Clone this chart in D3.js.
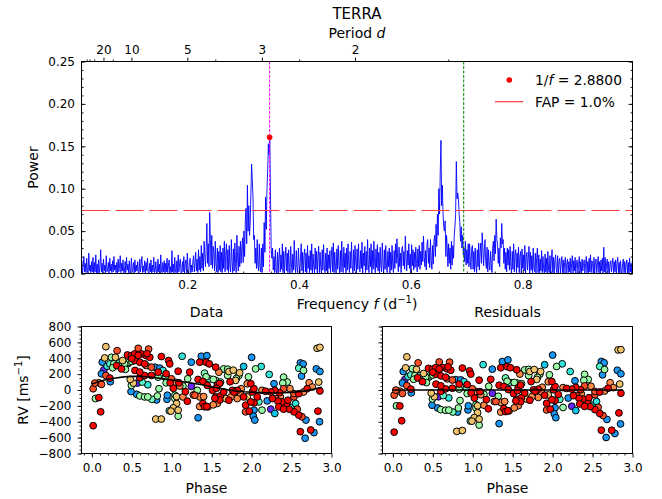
<!DOCTYPE html>
<html><head><meta charset="utf-8">
<script src="https://cdn.jsdelivr.net/npm/d3@7"></script>
<style>body{margin:0;background:#fff} text{font-family:"DejaVu Sans",sans-serif}</style>
</head><body><svg id="c" width="662" height="499"></svg>
<script>
// ---------------- data ----------------
const chartTitle = "TERRA";
const freqStart = 0.010, freqStep = 0.00125;   // frequency grid of the periodogram (1/d)
const powerMilli = [
 1,15,0,9,20,2,12,1,18,3, 0,24,3,10,1,14,2,19,0,13, 2,22,1,11,0,16,1,9,28,2, 12,0,17,3,10,1,21,2,4,13,
 0,18,3,11,1,15,2,20,4,10, 1,13,0,17,2,9,21,1,12,3, 16,0,2,14,1,19,4,11,1,15, 0,3,18,2,5,13,0,16,2,10,
 3,14,0,1,17,2,11,20,1,9, 2,15,0,13,3,18,1,0,12,2, 16,0,10,2,19,1,3,14,0,1, 17,2,11,0,22,3,1,13,2,15,
 0,12,2,18,1,10,16,0,8,1, 27,2,11,0,19,3,1,15,0,22, 2,12,17,1,0,14,2,20,0,11, 16,1,24,3,0,13,18,1,10,2,
 15,21,2,13,25,3,17,1,28,4, 20,2,33,6,24,3,38,22,8,30, 59,12,35,8,72,40,10,45,6,32, 25,3,38,12,2,30,1,26,4,33,
 2,25,1,30,6,38,2,22,35,4, 28,1,33,8,2,40,14,1,29,3, 36,12,1,45,17,3,32,8,38,12, 30,42,13,50,20,62,77,35,104,50,
 80,45,60,95,129,110,90,40,45,12, 30,6,40,10,3,35,8,2,30,1, 35,8,60,25,90,52,100,120,153,140, 161,95,30,18,30,4,20,1,28,3,
 1,25,0,18,30,2,22,5,35,1, 26,0,19,31,3,24,1,28,7,0, 32,10,1,23,4,39,8,1,27,6, 1,30,12,0,19,35,3,25,0,21,
 29,2,24,0,33,6,21,1,27,4, 35,0,23,8,1,30,5,26,0,20, 32,1,25,7,0,28,4,34,9,1, 24,3,30,0,22,6,27,1,19,31,
 2,36,1,25,8,0,29,5,33,10, 0,27,2,38,12,1,31,7,24,0, 30,4,35,11,1,26,6,37,9,0, 28,3,33,13,1,29,5,35,10,2,
 27,6,37,0,24,9,32,1,26,4, 40,11,1,30,8,35,0,27,5,38, 12,1,29,7,34,3,25,0,31,10, 2,36,13,0,28,5,33,9,1,26,
 8,30,0,25,4,33,10,1,27,6, 35,12,41,18,2,31,8,24,1,29, 32,9,26,5,44,20,3,27,10,35, 6,23,0,34,9,28,4,25,7,31,
 12,2,29,8,33,5,26,10,37,14, 44,20,8,27,4,35,40,12,30,7, 40,16,5,33,11,38,45,20,58,32, 70,45,100,70,120,157,80,104,70,55,
 50,62,20,45,30,8,35,12,30,5, 38,10,33,18,45,55,70,132,88,95, 88,70,60,38,55,30,45,22,30,14, 38,10,28,12,35,8,35,15,5,30,
 33,5,26,2,30,10,1,28,8,36, 4,25,36,12,48,30,9,27,40,14, 6,31,2,28,10,4,26,12,1,30, 38,15,45,23,64,40,35,12,30,8,
 42,30,59,35,40,12,30,5,25,2, 30,10,28,4,32,8,0,26,5,35, 2,22,28,1,24,7,31,1,20,26, 0,29,6,22,3,33,0,19,25,4,
 18,32,0,25,4,21,1,30,6,2, 24,0,19,30,1,22,0,17,3,27, 1,20,5,0,23,2,18,0,26,4, 1,21,0,16,28,1,19,0,15,22,
 5,1,21,0,14,18,0,12,20,1, 16,0,13,19,0,11,17,1,14,2, 18,0,12,21,0,15,3,19,0,13, 16,0,11,20,1,14,0,17,3,12,
 16,0,12,20,1,14,0,18,2,22, 1,15,12,0,19,0,13,17,1,11, 20,1,14,0,16,3,18,0,31,2, 19,0,12,17,1,14,0,11,15,2,
 11,18,0,14,2,16,0,12,19,1, 13,0,15,3,0,12,17,1,14,0, 11,16,0,13,0,18,2,12,0,15, 3,8
];
const bestPeriod = 2.88;
const bestPower = 0.1607;
const fapLevel = 0.0743;
const fapLabel = "FAP = 1.0%";
const periodTicks = [20, 10, 5, 3, 2];
const periodMinor = [50, 40, 30, 15, 4, 2.5, 1.5];
const freqTicks = [0.2, 0.4, 0.6, 0.8];
const powerTicks = [0, 0.05, 0.10, 0.15, 0.20, 0.25];
const phaseTicks = [0, 0.5, 1.0, 1.5, 2.0, 2.5, 3.0];
const rvTicks = [-800, -600, -400, -200, 0, 200, 400, 600, 800];

// [phase (d), RV (m/s), time colour 0..1]
const rvPoints = [
[0.016,-450,1],[0.11,-275,1],[0.087,-96,1],[0.045,-108,0.55],[0.016,16,0.9],[0.037,87,0.9],[0.087,91,0.82],[0.12,71,0.9],
[0.175,546,0.72],[0.16,404,0.72],[0.13,350,0.2],[0.15,254,0.05],[0.12,204,0.2],[0.175,183,0.9],[0.225,150,1],[0.245,412,0.55],
[0.295,412,0.72],[0.225,329,0.42],[0.275,329,0.55],[0.316,496,0.9],[0.33,308,0.05],[0.31,308,1],[0.37,266,1],[0.385,371,0.72],
[0.445,441,1],[0.466,350,0.55],[0.41,329,0.55],[0.495,433,1],[0.537,454,1],[0.58,525,0.9],[0.71,516,0.9],[0.62,454,1],
[0.68,433,1],[0.725,412,1],[0.537,371,1],[0.60,350,1],[0.66,329,1],[0.68,308,0.82],[0.745,287,0.9],[0.87,421,1],
[0.96,371,1],[0.975,329,1],[1.13,425,0.35],[1.245,350,0.2],[1.37,425,0.2],[1.35,350,1],[1.43,350,1],[0.79,287,0.2],
[0.85,275,0.2],[0.83,225,1],[0.89,246,0.35],[0.93,204,1],[0.995,141,0.9],[0.92,162,0.48],[1.04,100,0.82],[1.09,91,1],
[1.225,225,1],[1.2,141,0.55],[1.245,46,0.05],[1.14,50,0.55],[1.33,133,1],[1.39,108,1],[1.41,212,0.48],[1.32,-4,0.55],
[1.35,-87,0.82],[1.33,-350,0.2],[1.29,-66,0.9],[1.39,-170,1],[1.41,-212,1],[0.56,-54,0.2],[0.60,-75,0.55],[0.66,-87,0.55],
[0.70,-87,0.55],[0.75,-117,0.48],[0.82,-75,0.55],[0.84,16,0.55],[0.70,66,0.35],[0.63,100,0.42],[0.495,58,0.55],[0.52,87,0.72],
[0.57,87,0.05],[0.48,133,0.72],[0.60,154,1],[0.66,183,1],[0.54,246,1],[0.60,225,1],[0.745,183,1],[0.83,162,0.55],
[0.93,91,0.55],[0.94,-117,0.2],[0.945,-66,0.2],[1.04,-66,0.48],[1.04,-108,0.55],[1.06,-170,0.72],[1.02,-225,0.72],[0.99,-266,0.72],
[1.08,-254,0.72],[1.08,-329,0.55],[0.80,-366,0.72],[0.87,-366,0.72],[1.195,-141,1],[1.14,-87,0.82],
[2.0,412,0.2],[1.90,296,0.28],[2.05,266,0.55],[2.12,296,0.35],[2.22,196,0.35],[2.40,162,0.55],[2.445,100,0.55],[2.39,87,0.55],
[2.61,341,0.2],[2.645,329,0.2],[2.59,275,0.42],[2.65,246,0.55],[2.625,175,0.2],[2.82,525,0.72],[2.855,537,0.72],[2.81,266,0.2],
[2.855,233,0.2],[2.84,100,0.72],[2.855,-12,1],[2.83,-266,1],[2.85,-400,0.2],[2.61,-525,1],[2.67,-608,0.2],[2.74,-504,1],
[2.78,-537,0.2],[2.68,-379,0.2],[2.63,-337,0.9],[2.59,-316,1],[2.53,-275,1],[2.57,-241,0.9],[2.495,-221,0.35],[2.47,-241,1],
[2.44,-170,1],[2.38,-150,1],[2.33,-141,1],[2.29,-296,0.28],[2.24,-241,0.05],[2.195,-137,0.2],[2.13,-254,0.55],[2.03,-254,0.2],
[2.02,-329,0.2],[2.04,-379,0.2],[1.97,-266,1],[1.925,-275,0.9],[1.925,-191,1],[2.03,-162,1],[2.09,-150,0.42],[2.07,-87,1],
[2.01,-25,1],[2.03,16,1],[1.99,79,1],[1.945,79,0.82],[1.87,16,0.82],[1.82,-4,1],[1.86,-46,0.82],[1.90,-87,1],
[1.82,-108,0.82],[1.76,-4,1],[1.80,121,0.72],[1.84,183,0.55],[1.70,183,0.55],[1.715,233,0.72],[1.65,266,0.55],[1.675,254,0.2],
[1.55,287,1],[1.47,329,1],[1.47,141,0.42],[1.55,121,0.55],[1.61,100,0.55],[1.57,58,1],[1.445,58,1],[1.51,-4,1],
[1.55,-87,1],[1.61,-75,1],[1.675,-108,0.72],[1.715,-129,1],[1.455,-212,0.82],[1.57,-170,0.82],[1.74,-87,0.82],[1.78,-25,1],
[1.65,-25,1],[2.30,-108,0.9],[2.36,-87,0.82],[2.455,-129,1],[2.53,-87,0.9],[2.59,-46,1],[2.65,-25,0.82],[2.72,91,0.82],
[2.76,37,0.82],[2.695,16,1],[2.53,-46,0.9],[2.48,16,0.82],[2.40,16,0.9],[2.35,-33,1],[2.29,-4,1],[2.24,-25,1],
[2.175,-16,1],[2.26,-108,1],[2.34,-212,1],[2.40,-241,1],[2.13,-4,0.82],[2.55,-170,0.35],[2.28,79,0.2],[1.945,-87,0.72],
[1.99,-150,1],[1.44,433,0.2],[1.59,225,0.82],[1.08,237,1],[0.97,-262,0.42],[1.43,166,0.55],[1.52,133,0.55],[1.60,83,1],
[1.56,21,1],[1.73,104,1],[1.70,262,0.55],[1.77,250,0.72],[1.85,216,0.72],[1.81,146,0.55],[1.96,166,0.55],[1.44,-208,1],
[1.52,-187,0.82],[1.60,-125,1],[1.54,-104,1],[1.35,-208,0.82],[1.40,-83,0.82],[1.27,-62,0.82],[1.17,-21,1],[1.10,50,0.82],
[1.02,21,1],[0.98,91,1],[1.06,-83,0.72],[0.58,437,1],[0.69,458,1],[0.50,396,1],[0.23,104,0.2],[0.19,300,0.35],
[0.26,280,0.55],[0.34,340,0.42],[0.42,260,0.55],[0.45,330,0.42],[0.50,360,0.55],[0.49,-20,0.2],[0.81,-125,0.2]
];
const modelPhase = [0,0.1,0.2,0.3,0.4,0.5,0.6,0.7,0.8,0.9,1.0,1.1,1.2,1.3,1.4,1.5,1.6,1.7,1.8,1.9,2.0,2.1,2.2,2.3,2.4,2.5,2.6,2.7,2.8,2.88];
const modelRV    = [75,110,135,152,165,172,172,166,155,140,125,110,95,78,62,42,22,2,-12,-22,-28,-33,-36,-37,-35,-30,-20,-5,15,35];

// ---------------- drawing ----------------
const svg = d3.select("#c");
const FONT = "DejaVu Sans";
function styleAxis(g, fs){
  g.select(".domain").remove();
  g.selectAll("text").attr("font-size", fs || 12).attr("font-family", FONT).attr("fill", "#000");
  g.selectAll("line").attr("stroke", "#000").attr("stroke-width", 0.9);
}

// ---- periodogram panel ----
const P = {l:81.5, r:632.5, t:61.5, b:273.5};
const x = d3.scaleLinear().domain([0.0107, 0.9964]).range([P.l, P.r]);
const y = d3.scaleLinear().domain([0, 0.25]).range([P.b, P.t]);

svg.append("clipPath").attr("id","clipTop").append("rect")
  .attr("x",P.l).attr("y",P.t).attr("width",P.r-P.l).attr("height",P.b-P.t);

const pg = powerMilli.map((v,i)=>({f: freqStart + i*freqStep, p: v/1000}));
const plot = svg.append("g").attr("clip-path","url(#clipTop)");
plot.append("path").datum(pg)
  .attr("d", d3.line().x(d=>x(d.f)).y(d=>y(d.p)))
  .attr("fill","none").attr("stroke","#0000ff").attr("stroke-width",0.9);

// FAP line
plot.append("line").attr("x1",P.l).attr("x2",P.r).attr("y1",y(fapLevel)).attr("y2",y(fapLevel))
  .attr("stroke","#ff3b3b").attr("stroke-width",1.2).attr("stroke-dasharray","28,6");
// best period and harmonic
const fBest = 1/bestPeriod;
plot.append("line").attr("x1",x(fBest)).attr("x2",x(fBest)).attr("y1",P.t).attr("y2",P.b)
  .attr("stroke","#ff00ff").attr("stroke-width",1).attr("stroke-dasharray","3,1.5");
plot.append("line").attr("x1",x(2*fBest)).attr("x2",x(2*fBest)).attr("y1",P.t).attr("y2",P.b)
  .attr("stroke","#008000").attr("stroke-width",1).attr("stroke-dasharray","3,1.5");
plot.append("circle").attr("cx",x(fBest)).attr("cy",y(bestPower)).attr("r",2.8).attr("fill","#ff0000");

// axes
styleAxis(svg.append("g").attr("transform",`translate(0,${P.b})`)
  .call(d3.axisBottom(x).tickValues(freqTicks).tickSizeInner(-4).tickSizeOuter(0).tickPadding(6.5).tickFormat(d3.format(".1f"))));
styleAxis(svg.append("g").attr("transform",`translate(0,${P.b})`)
  .call(d3.axisBottom(x).tickValues(d3.range(0.05,0.99,0.05).filter(v=>Math.abs(v*5-Math.round(v*5))>1e-6)).tickSizeInner(-2).tickSizeOuter(0).tickFormat("")));
styleAxis(svg.append("g").attr("transform",`translate(${P.l},0)`)
  .call(d3.axisLeft(y).tickValues(powerTicks).tickSizeInner(-4).tickSizeOuter(0).tickPadding(6.5).tickFormat(d3.format(".2f"))));
styleAxis(svg.append("g").attr("transform",`translate(${P.l},0)`)
  .call(d3.axisLeft(y).ticks(25).tickSizeInner(-2).tickSizeOuter(0).tickFormat("")));
styleAxis(svg.append("g").attr("transform",`translate(${P.r},0)`)
  .call(d3.axisRight(y).tickValues(powerTicks).tickSizeInner(-4).tickSizeOuter(0).tickFormat("")));
styleAxis(svg.append("g").attr("transform",`translate(${P.r},0)`)
  .call(d3.axisRight(y).ticks(25).tickSizeInner(-2).tickSizeOuter(0).tickFormat("")));
// period axis on top
styleAxis(svg.append("g").attr("transform",`translate(0,${P.t})`)
  .call(d3.axisTop(x).tickValues(periodTicks.map(p=>1/p)).tickSizeInner(4).tickSizeOuter(0).tickPadding(3.5)
        .tickFormat((d,i)=>periodTicks[i])));
styleAxis(svg.append("g").attr("transform",`translate(0,${P.t})`)
  .call(d3.axisTop(x).tickValues(periodMinor.map(p=>1/p)).tickSizeInner(2).tickSizeOuter(0).tickFormat("")));

svg.append("rect").attr("x",P.l).attr("y",P.t).attr("width",P.r-P.l).attr("height",P.b-P.t)
  .attr("fill","none").attr("stroke","#000").attr("stroke-width",1);

// titles and labels
svg.append("text").attr("x",(P.l+P.r)/2).attr("y",18.5).attr("text-anchor","middle")
  .attr("font-size",15).text(chartTitle);
const pl = svg.append("text").attr("x",(P.l+P.r)/2).attr("y",38).attr("text-anchor","middle").attr("font-size",14);
pl.append("tspan").text("Period ");
pl.append("tspan").attr("font-style","italic").text("d");
const fl = svg.append("text").attr("x",(P.l+P.r)/2).attr("y",309).attr("text-anchor","middle").attr("font-size",14);
fl.append("tspan").text("Frequency ");
fl.append("tspan").attr("font-style","italic").text("f");
fl.append("tspan").text(" (d");
fl.append("tspan").attr("font-size",10).attr("dy",-6).text("\u22121");
fl.append("tspan").attr("dy",6).text(")");
svg.append("text").attr("transform",`translate(38,${(P.t+P.b)/2}) rotate(-90)`).attr("text-anchor","middle")
  .attr("font-size",14).text("Power");

// legend
svg.append("circle").attr("cx",509.3).attr("cy",80).attr("r",2.8).attr("fill","#ff0000");
const lg1 = svg.append("text").attr("x",535).attr("y",85).attr("font-size",13.8);
lg1.append("tspan").text("1/");
lg1.append("tspan").attr("font-style","italic").text("f");
lg1.append("tspan").text(" = " + bestPeriod.toFixed(4));
svg.append("line").attr("x1",495).attr("x2",523.3).attr("y1",101.7).attr("y2",101.7).attr("stroke","#ff3b3b").attr("stroke-width",1.2);
svg.append("text").attr("x",535).attr("y",106.5).attr("font-size",13.8).text(fapLabel);

// ---- RV panels ----
const colour = d3.scaleSequential(t => {
  const r = Math.min(1, Math.abs(2*t - 0.5)), g = Math.sin(Math.PI*t), b = Math.cos(Math.PI*t/2);
  return d3.rgb(r*255, g*255, b*255).toString();
}).domain([0,1]);
const model = d3.scaleLinear().domain(modelPhase).range(modelRV).clamp(true);
const yr = d3.scaleLinear().domain([-800, 800]).range([453.5, 326.5]);
const sorted = rvPoints.slice().sort((a,b)=>a[2]-b[2]);

function rvPanel(left, right, titleText, residual, showYLabels){
  const xp = d3.scaleLinear().domain([-0.13, 3.0]).range([left, right]);
  const g = svg.append("g");
  g.selectAll("circle").data(sorted).join("circle")
    .attr("cx", d=>xp(d[0]))
    .attr("cy", d=>yr(residual ? d[1] - model(d[0]) : d[1]))
    .attr("r", 3.4)
    .attr("fill", d=>colour(d[2]))
    .attr("stroke","#000").attr("stroke-width",1);
  const line = d3.line().x(d=>xp(d[0])).y(d=>yr(d[1]));
  const mdat = modelPhase.map((p,i)=>[p, residual ? modelRV[i]-modelRV[i] : modelRV[i]]);
  g.append("path").datum(mdat).attr("d", line).attr("fill","none").attr("stroke","#000").attr("stroke-width",1.6);

  styleAxis(svg.append("g").attr("transform",`translate(0,453.5)`)
    .call(d3.axisBottom(xp).tickValues(phaseTicks).tickSizeInner(4).tickSizeOuter(0).tickPadding(6).tickFormat(d3.format(".1f"))));
  styleAxis(svg.append("g").attr("transform",`translate(0,453.5)`)
    .call(d3.axisBottom(xp).tickValues(d3.range(-0.1,3.0,0.1)).tickSizeInner(2).tickSizeOuter(0).tickFormat("")));
  const ya = d3.axisLeft(yr).tickValues(rvTicks).tickSizeInner(4).tickSizeOuter(0).tickPadding(6);
  ya.tickFormat(showYLabels ? d3.format("d") : "");
  styleAxis(svg.append("g").attr("transform",`translate(${left},0)`).call(ya));
  styleAxis(svg.append("g").attr("transform",`translate(${left},0)`)
    .call(d3.axisLeft(yr).tickValues(d3.range(-800,801,50)).tickSizeInner(2).tickSizeOuter(0).tickFormat("")));
  svg.append("rect").attr("x",left).attr("y",326.5).attr("width",right-left).attr("height",127)
    .attr("fill","none").attr("stroke","#000").attr("stroke-width",1);
  svg.append("text").attr("x",(left+right)/2).attr("y",317).attr("text-anchor","middle").attr("font-size",14).text(titleText);
  svg.append("text").attr("x",(left+right)/2).attr("y",493).attr("text-anchor","middle").attr("font-size",14).text("Phase");
}
rvPanel(81.5, 331.5, "Data", false, true);
rvPanel(382.5, 632.5, "Residuals", true, false);

const rl = svg.append("text").attr("transform",`translate(28,390) rotate(-90)`).attr("text-anchor","middle").attr("font-size",14);
rl.append("tspan").text("RV [ms");
rl.append("tspan").attr("font-size",10).attr("dy",-6).text("\u22121");
rl.append("tspan").attr("dy",6).text("]");
</script></body></html>
